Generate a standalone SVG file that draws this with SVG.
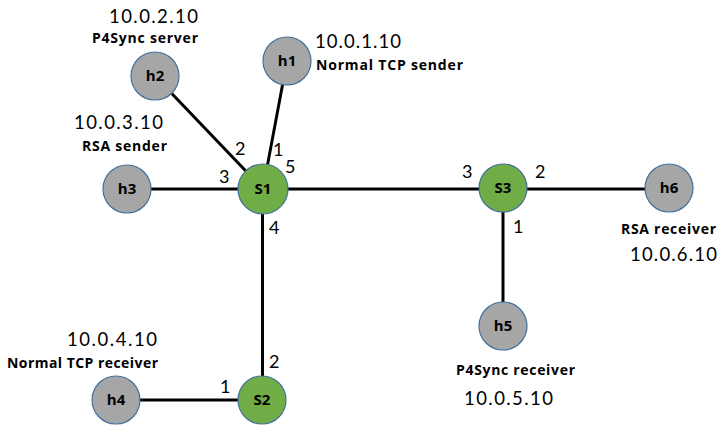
<svg xmlns="http://www.w3.org/2000/svg" width="727" height="433" viewBox="0 0 727 433">
<style>
.link{stroke:#000;stroke-width:3;fill:none}
.host{fill:#A6A6A6;stroke:#41719C;stroke-width:1.2}
.sw{fill:#70AD47;stroke:#41719C;stroke-width:1.2}
.nl{font-family:"Open Sans","Liberation Sans",sans-serif;font-weight:bold;font-size:15px;fill:#000;text-anchor:middle}
.ip{font-family:Lato,"Liberation Sans",sans-serif;font-size:18.5px;fill:#000}
.desc{font-family:"Open Sans","Liberation Sans",sans-serif;font-weight:bold;font-size:14px;fill:#000}
.port{font-family:Lato,"Liberation Sans",sans-serif;font-size:18px;fill:#000}
</style>
<rect width="727" height="433" fill="#fff"/>
<g id="connectors">
<line class="link" x1="155" y1="76" x2="263" y2="189"/>
<line class="link" x1="287" y1="61" x2="263" y2="189"/>
<line class="link" x1="127" y1="189" x2="263" y2="189"/>
<line class="link" x1="263" y1="189" x2="503" y2="189"/>
<line class="link" x1="262.5" y1="189" x2="262.5" y2="400"/>
<line class="link" x1="116" y1="400" x2="262" y2="400"/>
<line class="link" x1="503" y1="189" x2="669" y2="189"/>
<line class="link" x1="503" y1="189" x2="503" y2="326"/>
</g>
<g id="ports">
<text class="port" x="235" y="155">2</text>
<text class="port" x="273" y="156">1</text>
<text class="port" x="285" y="173">5</text>
<text class="port" x="219" y="183">3</text>
<text class="port" x="269" y="234">4</text>
<text class="port" x="269" y="368">2</text>
<text class="port" x="220" y="393">1</text>
<text class="port" x="462" y="178">3</text>
<text class="port" x="535" y="178">2</text>
<text class="port" x="513" y="233">1</text>
</g>
<g id="h1">
<circle class="host" cx="287" cy="61" r="24"/>
<text class="nl" x="287" y="66">h1</text>
<text class="ip" x="315" y="48" textLength="86" lengthAdjust="spacing">10.0.1.10</text>
<text class="desc" x="316" y="70" textLength="147" lengthAdjust="spacing">Normal TCP sender</text>
</g>
<g id="h2">
<circle class="host" cx="155" cy="76" r="24"/>
<text class="nl" x="155" y="81">h2</text>
<text class="ip" x="109" y="23" textLength="89" lengthAdjust="spacing">10.0.2.10</text>
<text class="desc" x="92" y="43" textLength="106" lengthAdjust="spacing">P4Sync server</text>
</g>
<g id="h3">
<circle class="host" cx="127" cy="189" r="24"/>
<text class="nl" x="127" y="194">h3</text>
<text class="ip" x="74" y="129" textLength="89" lengthAdjust="spacing">10.0.3.10</text>
<text class="desc" x="82" y="151" textLength="85" lengthAdjust="spacing">RSA sender</text>
</g>
<g id="S1">
<circle class="sw" cx="263" cy="189" r="25"/>
<text class="nl" x="263" y="194">S1</text>
</g>
<g id="S2">
<circle class="sw" cx="262" cy="400" r="24"/>
<text class="nl" x="262" y="405">S2</text>
</g>
<g id="h4">
<circle class="host" cx="116" cy="400" r="24"/>
<text class="nl" x="116" y="405">h4</text>
<text class="ip" x="67" y="346" textLength="90" lengthAdjust="spacing">10.0.4.10</text>
<text class="desc" x="7" y="368" textLength="151" lengthAdjust="spacing">Normal TCP receiver</text>
</g>
<g id="S3">
<circle class="sw" cx="503" cy="188" r="24"/>
<text class="nl" x="503" y="193">S3</text>
</g>
<g id="h6">
<circle class="host" cx="669" cy="188" r="24"/>
<text class="nl" x="669" y="193">h6</text>
<text class="desc" x="621" y="234" textLength="95" lengthAdjust="spacing">RSA receiver</text>
<text class="ip" x="630" y="261" textLength="87" lengthAdjust="spacing">10.0.6.10</text>
</g>
<g id="h5">
<circle class="host" cx="503" cy="326" r="24"/>
<text class="nl" x="503" y="331">h5</text>
<text class="desc" x="456" y="375" textLength="119" lengthAdjust="spacing">P4Sync receiver</text>
<text class="ip" x="464" y="405" textLength="89" lengthAdjust="spacing">10.0.5.10</text>
</g>
</svg>
